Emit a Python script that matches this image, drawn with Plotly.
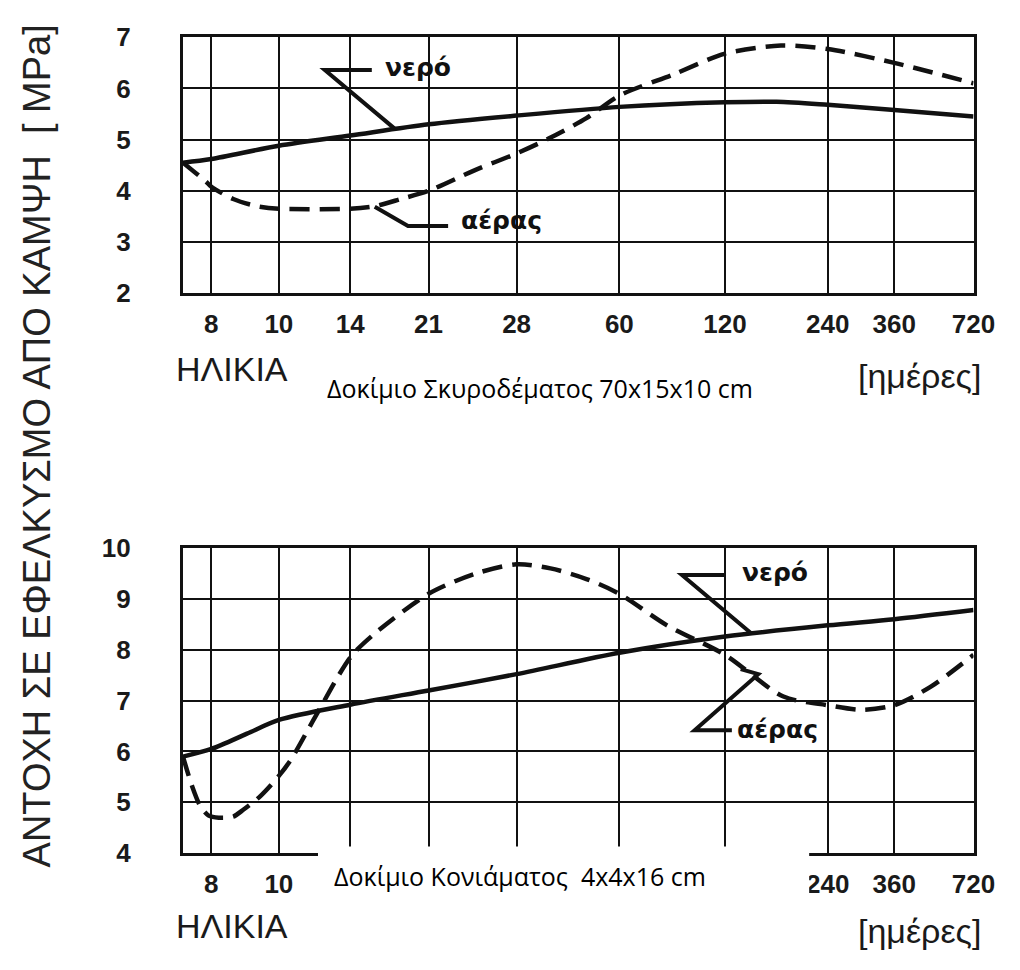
import numpy as np
import plotly.graph_objects as go

# ---- age axis (days): tick labels and the drawn scale they sit on ----
AGE_TICKS = [8, 10, 14, 21, 28, 60, 120, 240, 360, 720]
AGE_START = 7
# scale stops (axis units) for AGE_START followed by each tick age
AXIS_STOPS = [0, 29, 98, 171, 251, 341, 446, 554, 659, 727, 808]
# lower panel: the ages whose labels sit under the caption panel are not printed
MORTAR_TICK_TEXT = ["8", "10", "", "", "", "", "", "240", "360", "720"]


def pos(ages):
    """Map ages in days onto the chart's hand-drawn age scale."""
    anchors = [AGE_START] + AGE_TICKS
    return np.interp(np.log(np.asarray(ages, dtype=float)), np.log(anchors), AXIS_STOPS)


# ---- concrete specimen 70x15x10 cm ----
concrete_water_age = [7, 8, 10, 14, 21, 28, 60, 120, 170, 240, 360, 720]
concrete_water = [4.55, 4.62, 4.88, 5.08, 5.30, 5.47, 5.64, 5.73, 5.74, 5.68, 5.58, 5.45]

concrete_air_age = [7, 7.8, 8, 8.6, 9.3, 10, 14, 15.9, 18.2, 21, 24.4, 28, 35.5, 47,
                    60, 86, 120, 175, 240, 360, 720]
concrete_air = [4.55, 4.18, 4.08, 3.84, 3.70, 3.65, 3.65, 3.70, 3.84, 4.00, 4.40, 4.73,
                5.02, 5.42, 5.86, 6.28, 6.68, 6.84, 6.77, 6.50, 6.10]

# ---- mortar specimen 4x4x16 cm ----
mortar_water_age = [7, 8, 9, 10, 14, 21, 28, 60, 120, 240, 360, 720]
mortar_water = [5.90, 6.05, 6.35, 6.62, 6.92, 7.20, 7.52, 7.94, 8.26, 8.48, 8.60, 8.78]

mortar_air_age = [7, 7.3, 7.6, 7.9, 8.2, 8.6, 8.9, 9.4, 10, 10.6, 11.9, 14, 15.7, 21,
                  24.4, 28, 36, 47, 60, 82, 120, 178, 240, 295, 360, 494, 720]
mortar_air = [5.90, 5.33, 4.92, 4.74, 4.70, 4.72, 4.86, 5.12, 5.52, 5.85, 6.70, 7.85,
              8.28, 9.10, 9.49, 9.68, 9.60, 9.39, 9.10, 8.48, 7.90, 7.08, 6.91, 6.82,
              6.91, 7.27, 7.90]

W, H = 1020, 970
BLACK = "#111111"
TICK_FONT = dict(family="Liberation Sans, Arial, sans-serif", size=26, color="#1a1a1a", weight="bold")
LABEL_FONT = dict(family="Liberation Sans, Arial, sans-serif", size=34, color="#1a1a1a")
TITLE_FONT = dict(family="Liberation Sans, Arial, sans-serif", size=38, color="#222222")
CURVE_FONT = dict(family="DejaVu Sans, sans-serif", size=25, color=BLACK, weight="bold")
CAPTION_FONT = dict(family="Open Sans, Noto Sans, sans-serif", size=25, color="#000000")


def px_x(p):
    return p / W


def px_y(p):
    return 1 - p / H


fig = go.Figure()

panels = [
    ("x", "y", concrete_water_age, concrete_water, concrete_air_age, concrete_air),
    ("x2", "y2", mortar_water_age, mortar_water, mortar_air_age, mortar_air),
]
for xa, ya, wa, wv, aa, av in panels:
    fig.add_trace(go.Scatter(x=pos(wa), y=wv, xaxis=xa, yaxis=ya, mode="lines",
                             line=dict(color=BLACK, width=4.5, shape="spline", smoothing=0.8),
                             name="νερό", hoverinfo="skip"))
    fig.add_trace(go.Scatter(x=pos(aa), y=av, xaxis=xa, yaxis=ya, mode="lines",
                             line=dict(color=BLACK, width=4.5, dash="20px,10px",
                                       shape="spline", smoothing=0.8),
                             name="αέρας", hoverinfo="skip"))

x_dom = [px_x(187), px_x(995)]
xcommon = dict(range=[AXIS_STOPS[0], AXIS_STOPS[-1]], tickmode="array",
               tickvals=list(pos(AGE_TICKS)),
               showgrid=True, gridcolor=BLACK, gridwidth=2, showline=True,
               linecolor=BLACK, linewidth=3, mirror=True, zeroline=False,
               ticks="", tickfont=TICK_FONT, ticklabelstandoff=6, domain=x_dom,
               fixedrange=True)
ycommon = dict(dtick=1, showgrid=True, gridcolor=BLACK, gridwidth=2, showline=True,
               linecolor=BLACK, linewidth=3, mirror=True, zeroline=False, ticks="",
               tickfont=TICK_FONT, ticklabelstandoff=44, fixedrange=True)

fig.update_layout(
    width=W, height=H, margin=dict(l=0, r=0, t=0, b=0),
    paper_bgcolor="white", plot_bgcolor="white", showlegend=False,
    xaxis=dict(xcommon, anchor="y", ticktext=[str(a) for a in AGE_TICKS]),
    yaxis=dict(ycommon, range=[2, 7], tick0=2, domain=[px_y(287), px_y(23)], anchor="x"),
    xaxis2=dict(xcommon, anchor="y2", ticktext=MORTAR_TICK_TEXT),
    yaxis2=dict(ycommon, range=[4, 10], tick0=4, domain=[px_y(865), px_y(550)], anchor="x2"),
)

# curve call-outs: zig-zag leader lines (axis units / MPa)
leaders = [
    ("x", "y", [(193, 6.36), (145, 6.36), (216, 5.22)]),
    ("x", "y", [(196, 3.69), (230, 3.31), (271, 3.31)]),
    ("x2", "y2", [(555, 9.47), (510, 9.47), (581, 8.32)]),
    ("x2", "y2", [(570, 7.62), (588, 7.52), (523, 6.42), (561, 6.42)]),
]
for xr, yr, pts in leaders:
    path = "M " + " L ".join(f"{x},{y}" for x, y in pts)
    fig.add_shape(type="path", path=path, xref=xr, yref=yr, layer="above",
                  line=dict(color=BLACK, width=4))

callouts = [
    ("x", "y", 204, 6.40, "νερό"),
    ("x", "y", 282, 3.42, "αέρας"),
    ("x2", "y2", 569, 9.51, "νερό"),
    ("x2", "y2", 564, 6.44, "αέρας"),
]
for xr, yr, x, y, t in callouts:
    fig.add_annotation(x=x, y=y, xref=xr, yref=yr, text=t, showarrow=False,
                       xanchor="left", yanchor="middle", font=CURVE_FONT)

# white panel over the lower axis carrying the specimen caption
fig.add_shape(type="rect", xref="paper", yref="paper", layer="above",
              x0=px_x(325), x1=px_x(827), y0=px_y(918), y1=px_y(858),
              fillcolor="white", line=dict(width=0))

texts = [
    (38, 445, "ΑΝΤΟΧΗ ΣΕ ΕΦΕΛΚΥΣΜΟ ΑΠΟ ΚΑΜΨΗ  [ MPa]", TITLE_FONT, -90, "center"),
    (178, 365, "ΗΛΙΚΙΑ", LABEL_FONT, 0, "left"),
    (1005, 373, "[ημέρες]", LABEL_FONT, 0, "right"),
    (178, 940, "ΗΛΙΚΙΑ", LABEL_FONT, 0, "left"),
    (1005, 945, "[ημέρες]", LABEL_FONT, 0, "right"),
    (552, 385, "Δοκίμιο Σκυροδέματος 70x15x10 cm", CAPTION_FONT, 0, "center"),
    (531, 888, "Δοκίμιο Κονιάματος \u00a04x4x16 cm", CAPTION_FONT, 0, "center"),
]
for x, y, t, f, ang, xa in texts:
    fig.add_annotation(x=px_x(x), y=px_y(y), xref="paper", yref="paper", text=t,
                       showarrow=False, font=f, textangle=ang, xanchor=xa,
                       yanchor="middle")

fig.write_html("out.html")
